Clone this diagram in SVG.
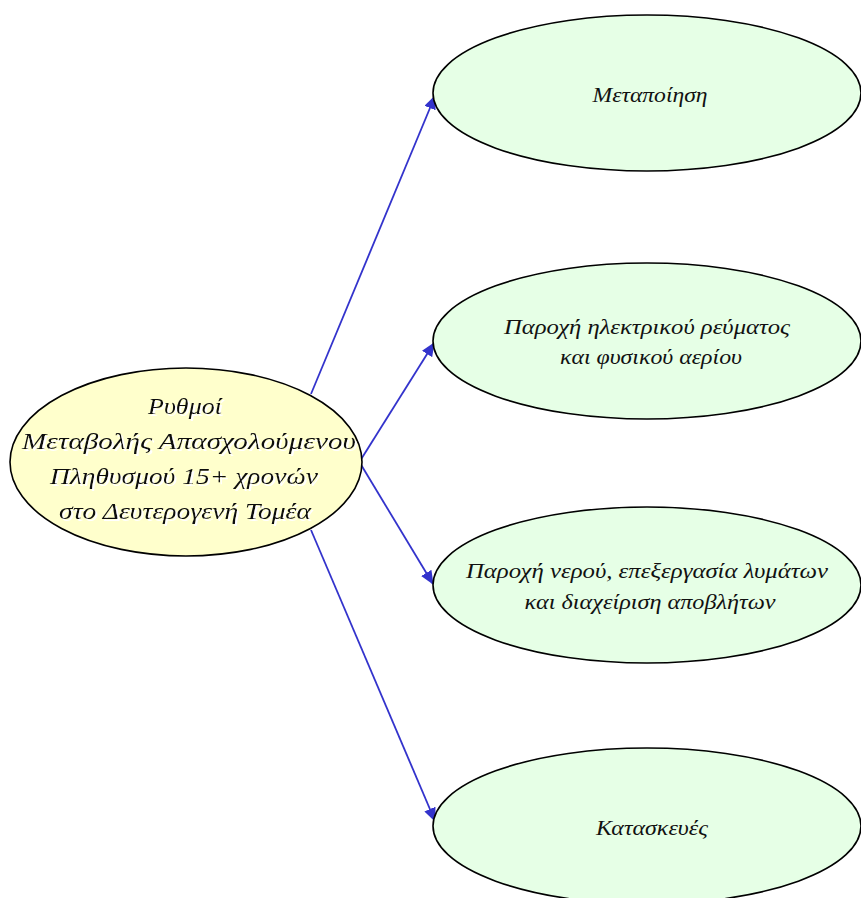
<svg xmlns="http://www.w3.org/2000/svg" width="861" height="898" viewBox="0 0 861 898">
<style>
.n{stroke:#000;stroke-width:1.6}
.c{fill:#ffffcc}
.g{fill:#e6ffe6}
text{font-family:"Liberation Serif","DejaVu Serif",serif;font-style:italic;text-anchor:middle;fill:#111}
.t{font-size:24px;filter:url(#sh)}
.l{font-size:20px}
.e{stroke:#3333cc;stroke-width:1.8;fill:none;marker-end:url(#a)}
</style>
<defs>
<marker id="a" markerWidth="14" markerHeight="12" refX="13" refY="6" orient="auto" markerUnits="userSpaceOnUse">
<path d="M0,0 L14,6 L0,12 z" fill="#3333cc"/>
</marker>
<filter id="sh" x="-5%" y="-20%" width="110%" height="150%">
<feOffset in="SourceAlpha" dx="2" dy="2" result="o"/>
<feFlood flood-color="#ffffff"/>
<feComposite in2="o" operator="in" result="s"/>
<feMerge><feMergeNode in="s"/><feMergeNode in="SourceGraphic"/></feMerge>
</filter>
</defs>
<rect width="861" height="898" fill="#fff"/>
<g id="connectors">
<line class="e" x1="311" y1="394" x2="435" y2="96"/>
<line class="e" x1="360" y1="461" x2="434" y2="343"/>
<line class="e" x1="360" y1="463" x2="433" y2="584"/>
<line class="e" x1="311" y1="530" x2="435" y2="821"/>
</g>
<g id="center">
<ellipse class="n c" cx="186" cy="462" rx="176" ry="94"/>
<text class="t" x="185" y="414" textLength="74" lengthAdjust="spacingAndGlyphs">Ρυθμοί</text>
<text class="t" x="189" y="449" textLength="334" lengthAdjust="spacingAndGlyphs">Μεταβολής Απασχολούμενου</text>
<text class="t" x="184" y="484" textLength="268" lengthAdjust="spacingAndGlyphs">Πληθυσμού 15+ χρονών</text>
<text class="t" x="185" y="519" textLength="252" lengthAdjust="spacingAndGlyphs">στο Δευτερογενή Τομέα</text>
</g>
<g id="n1">
<ellipse class="n g" cx="647" cy="93" rx="214" ry="78"/>
<text class="l" x="650" y="102" textLength="115" lengthAdjust="spacingAndGlyphs">Μεταποίηση</text>
</g>
<g id="n2">
<ellipse class="n g" cx="647" cy="341" rx="214" ry="78"/>
<text class="l" x="647" y="334" textLength="286" lengthAdjust="spacingAndGlyphs">Παροχή ηλεκτρικού  ρεύματος</text>
<text class="l" x="651" y="364" textLength="182" lengthAdjust="spacingAndGlyphs">και φυσικού αερίου</text>
</g>
<g id="n3">
<ellipse class="n g" cx="647" cy="585" rx="214" ry="78"/>
<text class="l" x="647" y="578" textLength="362" lengthAdjust="spacingAndGlyphs">Παροχή νερού,  επεξεργασία  λυμάτων</text>
<text class="l" x="650" y="609" textLength="251" lengthAdjust="spacingAndGlyphs">και διαχείριση  αποβλήτων</text>
</g>
<g id="n4">
<ellipse class="n g" cx="647" cy="826" rx="214" ry="78"/>
<text class="l" x="652" y="835" textLength="112" lengthAdjust="spacingAndGlyphs">Κατασκευές</text>
</g>
</svg>
